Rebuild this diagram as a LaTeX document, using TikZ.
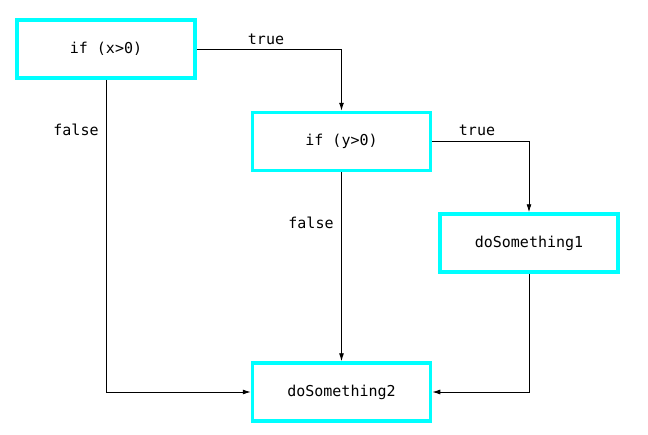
\documentclass[tikz,border=0pt]{standalone}
\usepackage{fontspec}
\setmonofont{DejaVu Sans Mono}
\usetikzlibrary{arrows.meta}
\definecolor{boxcyan}{RGB}{0,255,255}
\begin{document}
\begin{tikzpicture}[x=1pt,y=-1pt,
  box/.style={draw=boxcyan,line width=3.5pt,minimum width=178pt,minimum height=58pt,inner sep=0pt,font=\ttfamily\fontsize{15}{17}\selectfont,fill=white},
  conn/.style={draw=black,line width=0.9pt,-{Latex[length=8pt,width=5pt]}},
  lbl/.style={font=\ttfamily\fontsize{15}{17}\selectfont,inner sep=0pt}]
\useasboundingbox (0,0) rectangle (648,434);
\node[box] (a) at (106,49) {if (x>0)};
\node[box] (b) at (341.5,141.5) {if (y>0)};
\node[box] (c) at (529,243) {doSomething1};
\node[box] (d) at (341.5,392) {doSomething2};
\draw[conn] (a.east) -| (b.north);
\draw[conn] (a.south) |- (d.west);
\draw[conn] (b.east) -| (c.north);
\draw[conn] (b.south) -- (d.north);
\draw[conn] (c.south) |- (d.east);
\node[lbl] (t1) at (266,39) {true};
\node[lbl] (f1) at (76,130) {false};
\node[lbl] (t2) at (477,130) {true};
\node[lbl] (f2) at (311,223) {false};
\end{tikzpicture}
\end{document}
